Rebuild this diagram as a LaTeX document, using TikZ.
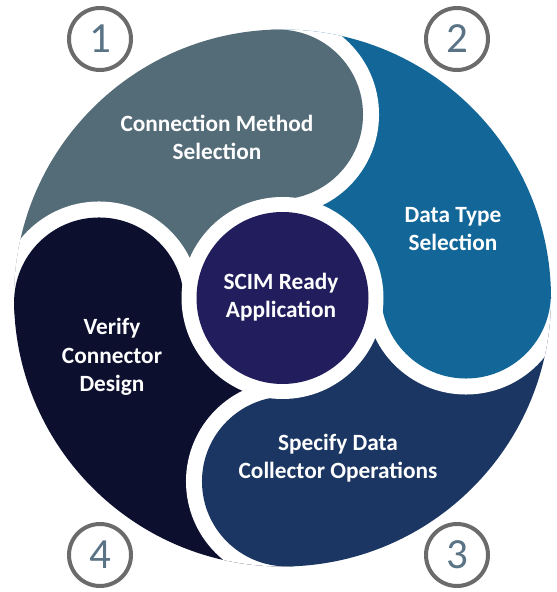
\documentclass[tikz,border=0pt]{standalone}
\usepackage{fontspec}
\setmainfont{Carlito}
\usetikzlibrary{calc}
\definecolor{pOne}{HTML}{546C78}
\definecolor{pTwo}{HTML}{126798}
\definecolor{pThree}{HTML}{1B3662}
\definecolor{pFour}{HTML}{0C0F2E}
\definecolor{pCenter}{HTML}{221E5E}
\definecolor{numRing}{HTML}{6B6B6B}
\definecolor{numText}{HTML}{5A7486}
\begin{document}
\begin{tikzpicture}[x=1pt,y=1pt,
  lbl/.style={text=white, align=center, font=\fontsize{23.3}{28.5}\selectfont\bfseries},
  numc/.style={circle, draw=numRing, line width=4pt, minimum size=62pt, inner sep=0pt,
    text=numText, font=\fontsize{43}{43}\selectfont}]
\useasboundingbox (0,0) rectangle (557,592);
\coordinate (C) at (282.5,294);
\begin{scope}
  \clip (C) circle (268.5);
  \foreach \a/\col in {91.4/pOne, 1.4/pTwo, -88.6/pThree, 181.4/pFour} {
    \pgfmathsetmacro{\b}{\a+90}
    \fill[\col] (C) -- ++(\a:600) arc[start angle=\a, end angle=\b, radius=600] -- cycle;
  }
  \foreach \a/\col in {91.4/pOne, 1.4/pTwo, -88.6/pThree, 181.4/pFour} {
    \pgfmathsetmacro{\b}{\a-90}
    \begin{scope}
      \clip (C) -- ++(\a:600) arc[start angle=\a, end angle=\b, radius=600] -- cycle;
      \fill[white] ($(C)+(\a:183.5)$) circle (101);
    \end{scope}
    \fill[\col] ($(C)+(\a:183.5)$) circle (85);
  }
\end{scope}
\fill[white] (C) circle (101);
\fill[pCenter] (C) circle (86);

\node[lbl] (t1) at (217,454.5) {Connection Method\\Selection};
\node[lbl] (t2) at (453,363) {Data Type\\Selection};
\node[lbl] (tc) at (281,295) {SCIM Ready\\Application};
\node[lbl] (t4) at (112,235) {Verify\\Connector\\Design};
\node[lbl] (t3) at (338,134) {Specify Data\\Collector Operations};

\node[numc] (n1) at (100,553) {1};
\node[numc] (n2) at (457,553) {2};
\node[numc] (n3) at (457,37) {3};
\node[numc] (n4) at (100,37) {4};
\end{tikzpicture}
\end{document}
